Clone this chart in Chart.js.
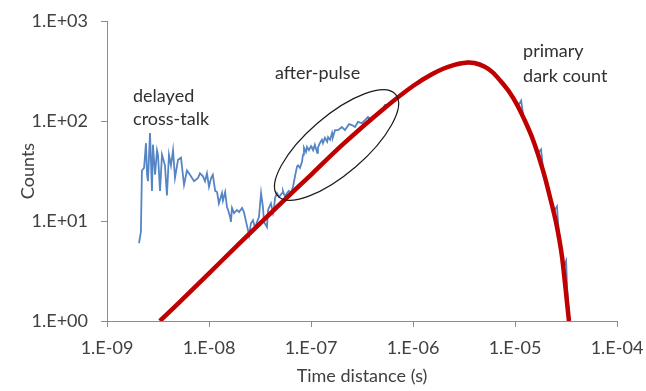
<!DOCTYPE html>
<html>
<head>
<meta charset="utf-8">
<script src="https://cdn.jsdelivr.net/npm/chart.js@4.4.0/dist/chart.umd.min.js"></script>
<style>
html,body{margin:0;padding:0;background:#ffffff;}
#wrap{width:646px;height:391px;position:relative;}
</style>
</head>
<body>
<div id="wrap"><canvas id="c" width="646" height="391"></canvas></div>
<script>
// ---- tick values and labels ----
const xTickValues = [1e-9, 1e-8, 1e-7, 1e-6, 1e-5, 1e-4];
const xTickLabels = ['1.E-09', '1.E-08', '1.E-07', '1.E-06', '1.E-05', '1.E-04'];
const yTickValues = [1, 10, 100, 1000];
const yTickLabels = ['1.E+00', '1.E+01', '1.E+02', '1.E+03'];

// ---- measured histogram (blue) ----
const measuredTimes = [
  2.06e-9, 2.15e-9, 2.20e-9, 2.31e-9, 2.41e-9, 2.47e-9, 2.52e-9, 2.64e-9, 2.76e-9, 2.82e-9,
  2.96e-9, 3.09e-9, 3.16e-9, 3.31e-9, 3.46e-9, 3.70e-9, 3.87e-9, 4.05e-9, 4.24e-9, 4.44e-9,
  4.64e-9, 4.97e-9, 5.31e-9, 5.69e-9, 6.08e-9, 6.51e-9, 7.13e-9, 7.80e-9, 8.16e-9, 8.73e-9,
  9.14e-9, 9.55e-9, 1.00e-8, 1.05e-8, 1.09e-8, 1.15e-8, 1.20e-8, 1.25e-8, 1.34e-8, 1.37e-8,
  1.44e-8, 1.50e-8, 1.54e-8, 1.61e-8, 1.64e-8, 1.68e-8, 1.76e-8, 1.88e-8, 1.97e-8, 2.11e-8,
  2.20e-8, 2.31e-8, 2.41e-8, 2.47e-8, 2.58e-8, 2.70e-8, 2.82e-8, 2.96e-8, 3.09e-8, 3.24e-8,
  3.38e-8, 3.46e-8, 3.70e-8, 3.79e-8, 4.05e-8, 4.24e-8, 4.34e-8, 4.44e-8, 4.64e-8, 4.86e-8,
  5.20e-8, 5.31e-8, 5.56e-8, 5.82e-8, 6.08e-8, 6.37e-8, 6.66e-8, 6.97e-8, 7.29e-8, 7.46e-8,
  7.80e-8, 8.16e-8, 8.35e-8, 8.53e-8, 8.93e-8, 9.14e-8, 9.55e-8, 1.00e-7, 1.02e-7, 1.05e-7,
  1.09e-7, 1.15e-7, 1.17e-7, 1.22e-7, 1.28e-7, 1.31e-7, 1.37e-7, 1.44e-7, 1.47e-7, 1.54e-7,
  1.61e-7, 1.64e-7, 1.72e-7, 1.84e-7, 2.01e-7, 2.15e-7, 2.36e-7, 2.52e-7, 2.70e-7, 2.89e-7,
  3.16e-7, 3.38e-7, 3.62e-7, 3.96e-7, 4.24e-7, 4.54e-7, 4.97e-7, 5.31e-7, 5.69e-7, 6.22e-7,
  6.66e-7, 7.13e-7, 7.98e-7, 8.93e-7, 1.00e-6, 1.12e-6, 1.25e-6, 1.40e-6, 1.57e-6, 1.76e-6,
  1.97e-6, 2.20e-6, 2.47e-6, 2.76e-6, 3.09e-6, 3.46e-6, 3.87e-6, 4.34e-6, 4.86e-6, 5.43e-6,
  6.08e-6, 6.81e-6, 7.62e-6, 8.53e-6, 9.55e-6, 1.07e-5, 1.15e-5, 1.20e-5, 1.34e-5, 1.50e-5,
  1.68e-5, 1.80e-5, 1.88e-5, 2.01e-5, 2.20e-5, 2.41e-5, 2.58e-5, 2.70e-5, 2.82e-5, 3.02e-5,
  3.17e-5, 3.24e-5, 3.38e-5, 3.45e-5
];
const measuredCounts = [
  6.0, 7.8, 32, 34, 60, 29, 25, 76, 20, 58,
  29, 51, 46, 20, 46, 36, 18, 46, 36, 51,
  27, 41, 43, 23, 32, 29, 25, 27, 30, 28,
  25, 30, 22, 27, 29, 20, 19.5, 15, 19, 16,
  19.5, 13.8, 12.9, 11, 9.8, 13.5, 12, 12.9, 12.3, 13.5,
  12.3, 9.8, 8.1, 7.2, 9.5, 10.2, 8.5, 9.8, 11, 19,
  13.8, 9.8, 8.7, 12.9, 15, 12, 13.5, 17, 19, 17.4,
  19, 20, 17.4, 19, 20, 19, 22, 28, 35, 36,
  34, 39, 46, 54, 49, 55, 51, 56, 54, 51,
  58, 48, 54, 60, 65, 60, 68, 62, 69, 65,
  76, 69, 81, 81, 87, 81, 93, 91, 87, 98,
  95, 102, 110, 102, 115, 120, 129, 145, 145, 155,
  162, 170, 192, 203, 230, 238, 268, 275, 305, 312,
  340, 342, 368, 372, 380, 395, 375, 366, 345, 335,
  300, 262, 232, 205, 172, 142, 160, 115, 88, 66,
  48, 52, 34, 26, 18, 12.5, 14, 7, 5.5, 3.5,
  4.0, 2.2, 1.2, 1.0
];

// ---- fitted primary dark count curve (red) ----
const fitTimes = [
  3.3e-9, 5e-9, 1e-8, 2e-8, 5e-8, 1e-7, 2e-7, 5e-7, 1e-6, 1.5e-6,
  2e-6, 2.5e-6, 3e-6, 3.5e-6, 4e-6, 5e-6, 6e-6, 7.13e-6, 8.93e-6, 1.05e-5,
  1.2e-5, 1.5e-5, 1.88e-5, 2.2e-5, 2.58e-5, 2.89e-5, 3.09e-5, 3.38e-5
];
const fitCounts = [
  1.0, 1.5, 3.0, 6.0, 14.8, 29, 57, 129, 224, 290,
  335, 362, 378, 385, 380, 350, 308, 255, 191, 145,
  110, 65, 32, 17.4, 8.7, 4.4, 2.4, 1.0
];

// ---- annotations (anchored in data coordinates) ----
const noteTexts = ['delayed', 'cross-talk', 'after-pulse', 'primary', 'dark count'];
const noteTimes = [1.8e-9, 1.8e-9, 4.44e-8, 1.2e-5, 1.2e-5];
const noteCounts = [155, 91, 263, 437, 245];
const ellipseTipTimes = [4.7e-8, 6.75e-7];
const ellipseTipCounts = [17.9, 185];

const FONT = 'Lato, "Liberation Sans", sans-serif';
const TEXT = '#404040';
const AXIS = '#8c8c8c';

const annotate = {
  id: 'annotate',
  afterDatasetsDraw(chart) {
    const {ctx, scales: {x, y}} = chart;
    ctx.save();
    const x1 = x.getPixelForValue(ellipseTipTimes[0]), y1 = y.getPixelForValue(ellipseTipCounts[0]);
    const x2 = x.getPixelForValue(ellipseTipTimes[1]), y2 = y.getPixelForValue(ellipseTipCounts[1]);
    const cx = (x1 + x2) / 2, cy = (y1 + y2) / 2;
    const a = Math.hypot(x2 - x1, y2 - y1) / 2;
    const ang = Math.atan2(y2 - y1, x2 - x1);
    ctx.beginPath();
    ctx.ellipse(cx, cy, a, 29, ang, 0, Math.PI * 2);
    ctx.strokeStyle = '#1a1a1a';
    ctx.lineWidth = 1.2;
    ctx.stroke();
    ctx.fillStyle = '#303030';
    ctx.font = '18px ' + FONT;
    ctx.textAlign = 'left';
    ctx.textBaseline = 'alphabetic';
    noteTexts.forEach((t, i) => {
      ctx.fillText(t, x.getPixelForValue(noteTimes[i]), y.getPixelForValue(noteCounts[i]));
    });
    ctx.restore();
  }
};

new Chart(document.getElementById('c'), {
  type: 'line',
  data: {
    datasets: [
      {
        label: 'fit',
        data: fitTimes.map((t, i) => ({x: t, y: fitCounts[i]})),
        borderColor: '#c00000',
        borderWidth: 4.5,
        pointRadius: 0,
        cubicInterpolationMode: 'monotone',
        fill: false,
        order: 0
      },
      {
        label: 'measured',
        data: measuredTimes.map((t, i) => ({x: t, y: measuredCounts[i]})),
        borderColor: '#5585c4',
        borderWidth: 1.8,
        pointRadius: 0,
        tension: 0,
        fill: false,
        order: 1
      }
    ]
  },
  options: {
    responsive: false,
    animation: false,
    devicePixelRatio: 1,
    layout: {padding: {left: 0, right: 29, top: 21, bottom: 0}},
    plugins: {legend: {display: false}, tooltip: {enabled: false}},
    scales: {
      x: {
        type: 'logarithmic',
        min: 1e-9,
        max: 1e-4,
        afterBuildTicks: s => { s.ticks = xTickValues.map(v => ({value: v})); },
        afterFit: s => { s.height = 70; s.paddingLeft = 0; s.paddingRight = 0; },
        ticks: {
          callback: (v, i) => xTickLabels[i],
          autoSkip: false, maxRotation: 0, minRotation: 0,
          font: {family: FONT, size: 18}, color: TEXT, padding: 10
        },
        grid: {drawOnChartArea: false, drawTicks: true, tickLength: 6, color: AXIS},
        border: {display: true, color: AXIS, width: 1},
        title: {display: true, text: 'Time distance (s)', font: {family: FONT, size: 18}, color: TEXT, padding: {top: 0, bottom: 4}}
      },
      y: {
        type: 'logarithmic',
        min: 1,
        max: 1000,
        afterBuildTicks: s => { s.ticks = yTickValues.map(v => ({value: v})); },
        afterFit: s => { s.width = 107; s.paddingTop = 0; s.paddingBottom = 0; },
        ticks: {
          callback: (v, i) => yTickLabels[i],
          autoSkip: false,
          font: {family: FONT, size: 18}, color: TEXT, padding: 13
        },
        grid: {drawOnChartArea: false, drawTicks: true, tickLength: 6, color: AXIS},
        border: {display: true, color: AXIS, width: 1},
        title: {display: true, text: 'Counts', font: {family: FONT, size: 18}, color: TEXT, padding: {top: 17, bottom: 0}}
      }
    }
  },
  plugins: [annotate]
});
</script>
</body>
</html>
